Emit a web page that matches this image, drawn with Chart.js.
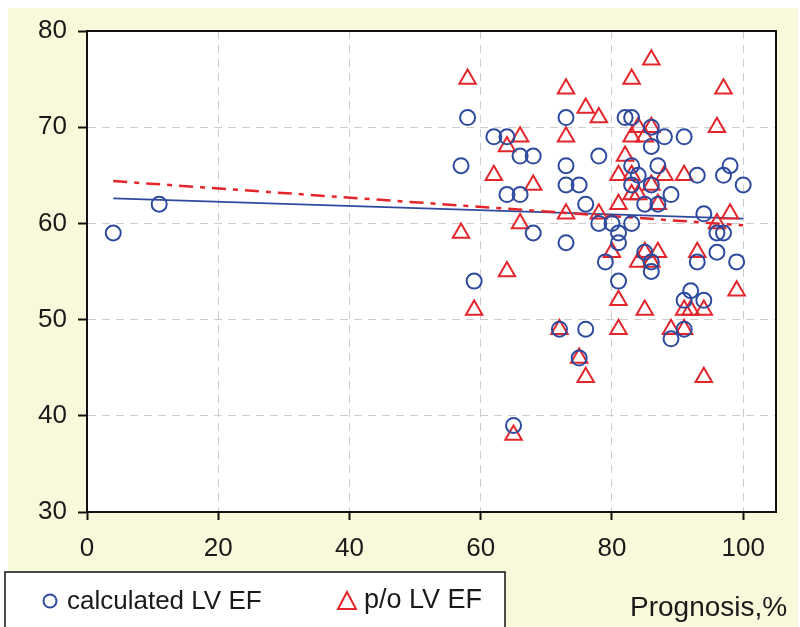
<!DOCTYPE html>
<html>
<head>
<meta charset="utf-8">
<script src="https://cdn.jsdelivr.net/npm/chart.js@4/dist/chart.umd.min.js"></script>
<style>
  html, body { margin: 0; padding: 0; background: #fff; }
  #wrap { width: 800px; height: 627px; position: relative; }
</style>
</head>
<body>
<div id="wrap"><canvas id="scatterChart" width="800" height="627"></canvas></div>
<script>
// calculated LV EF (circles)
const calcX = [4, 11, 57, 58, 59, 62, 64, 64, 66, 66, 68, 68, 65, 72, 73, 73, 73, 73, 75, 75,
               76, 76, 78, 78, 79, 80, 81, 81, 81, 82, 83, 83, 83, 83, 84, 85, 85, 86, 86, 86,
               86, 86, 87, 87, 88, 89, 89, 91, 91, 91, 92, 93, 93, 94, 94, 96, 97, 96, 97, 98,
               99, 100];
const calcY = [59, 62, 66, 71, 54, 69, 69, 63, 67, 63, 67, 59, 39, 49, 71, 66, 64, 58, 64, 46,
               62, 49, 67, 60, 56, 60, 59, 58, 54, 71, 71, 66, 64, 60, 65, 62, 57, 70, 68, 64,
               56, 55, 66, 62, 69, 63, 48, 69, 52, 49, 53, 65, 56, 61, 52, 59, 59, 57, 65, 66,
               56, 64];

// p/o LV EF (triangles)
const poX = [57, 58, 59, 62, 64, 64, 66, 66, 68, 65, 72, 73, 73, 73, 75, 76, 76, 78, 78, 80,
             81, 81, 81, 81, 82, 83, 83, 83, 83, 84, 84, 84, 85, 85, 85, 86, 86, 86, 86, 87,
             87, 88, 89, 91, 91, 91, 92, 93, 94, 94, 96, 96, 97, 98, 99];
const poY = [59, 75, 51, 65, 68, 55, 69, 60, 64, 38, 49, 74, 69, 61, 46, 72, 44, 71, 61, 57,
             65, 62, 52, 49, 67, 75, 69, 65, 63, 70, 63, 56, 69, 57, 51, 77, 70, 64, 56, 62,
             57, 65, 49, 65, 51, 49, 51, 57, 51, 44, 70, 60, 74, 61, 53];

// regression lines
const trendX = [4, 100];
const calcTrend = [62.6, 60.5];
const poTrend = [64.4, 59.8];

const xTicks = [0, 20, 40, 60, 80, 100];

const BLUE = '#2d4a9e';
const RED = '#e3262b';
const FONT = '"Liberation Sans", Arial, sans-serif';

function pts(xs, ys) {
    return xs.map((x, i) => ({ x: x, y: ys[i] }));
}

const pagePlugin = {
    id: 'page',
    beforeDraw(chart) {
        const ctx = chart.ctx;
        const a = chart.chartArea;
        ctx.save();
        ctx.fillStyle = '#ffffff';
        ctx.fillRect(0, 0, chart.width, chart.height);
        ctx.fillStyle = '#f8f8da';
        ctx.fillRect(8, 8, 790, chart.height - 8);
        ctx.fillStyle = '#ffffff';
        ctx.fillRect(a.left, a.top, a.right - a.left, a.bottom - a.top);
        ctx.restore();
    },
    afterDraw(chart) {
        const ctx = chart.ctx;
        const a = chart.chartArea;
        ctx.save();
        // plot frame
        ctx.strokeStyle = '#111';
        ctx.lineWidth = 2;
        ctx.strokeRect(a.left, a.top, a.right - a.left, a.bottom - a.top);

        // legend box
        ctx.fillStyle = '#ffffff';
        ctx.fillRect(5, 572, 500, 60);
        ctx.strokeStyle = '#111';
        ctx.lineWidth = 1.5;
        ctx.strokeRect(5, 572, 500, 60);

        ctx.lineWidth = 2;
        ctx.strokeStyle = BLUE;
        ctx.beginPath();
        ctx.arc(50, 601, 6.5, 0, Math.PI * 2);
        ctx.stroke();

        ctx.strokeStyle = RED;
        ctx.beginPath();
        ctx.moveTo(347, 592);
        ctx.lineTo(356, 609);
        ctx.lineTo(338, 609);
        ctx.closePath();
        ctx.stroke();

        ctx.fillStyle = '#1a1a1a';
        ctx.font = '26px ' + FONT;
        ctx.textBaseline = 'middle';
        ctx.textAlign = 'left';
        ctx.fillText(chart.data.datasets[0].label, 67, 602);
        ctx.font = '27px ' + FONT;
        ctx.fillText(chart.data.datasets[1].label, 364, 601);

        ctx.font = '28px ' + FONT;
        ctx.fillText('Prognosis,%', 630, 608);
        ctx.restore();
    }
};

const ctx = document.getElementById('scatterChart').getContext('2d');
const scatterChart = new Chart(ctx, {
    type: 'scatter',
    data: {
        datasets: [{
            label: 'calculated LV EF',
            data: pts(calcX, calcY),
            pointStyle: 'circle',
            pointRadius: 7.5,
            backgroundColor: 'rgba(0,0,0,0)',
            borderColor: BLUE,
            pointBorderWidth: 2,
            order: 1
        }, {
            label: 'p/o LV EF',
            data: pts(poX, poY),
            pointStyle: 'triangle',
            pointRadius: 9.5,
            backgroundColor: 'rgba(0,0,0,0)',
            borderColor: RED,
            pointBorderWidth: 2,
            order: 2
        }, {
            label: 'calc trend',
            data: pts(trendX, calcTrend),
            showLine: true,
            pointRadius: 0,
            borderColor: BLUE,
            borderWidth: 1.8,
            order: 4
        }, {
            label: 'p/o trend',
            data: pts(trendX, poTrend),
            showLine: true,
            pointRadius: 0,
            borderColor: RED,
            borderWidth: 2.5,
            borderDash: [14, 7, 5, 7],
            order: 3
        }]
    },
    options: {
        responsive: false,
        animation: false,
        layout: { padding: { left: 0, top: 31, right: 24, bottom: 0 } },
        plugins: {
            legend: { display: false },
            tooltip: { enabled: false }
        },
        scales: {
            x: {
                type: 'linear',
                min: 0,
                max: 105,
                afterBuildTicks: s => { s.ticks = xTicks.map(v => ({ value: v })); },
                afterFit: s => { s.height = 115; },
                grid: {
                    color: '#cccccc',
                    lineWidth: 1,
                    tickColor: '#111',
                    tickLength: 8,
                    tickWidth: 2,
                    tickBorderDash: []
                },
                border: { display: true, color: '#111', width: 2, dash: [8, 6] },
                ticks: {
                    padding: 13,
                    color: '#1a1a1a',
                    font: { family: FONT, size: 26 },
                    maxRotation: 0
                }
            },
            y: {
                type: 'linear',
                min: 30,
                max: 80,
                ticks: {
                    stepSize: 10,
                    padding: 11,
                    color: '#1a1a1a',
                    font: { family: FONT, size: 26 }
                },
                afterFit: s => { s.width = 87; },
                grid: {
                    color: '#cccccc',
                    lineWidth: 1,
                    tickColor: '#111',
                    tickLength: 9,
                    tickWidth: 2,
                    tickBorderDash: []
                },
                border: { display: true, color: '#111', width: 2, dash: [8, 6] }
            }
        }
    },
    plugins: [pagePlugin]
});
</script>
</body>
</html>
